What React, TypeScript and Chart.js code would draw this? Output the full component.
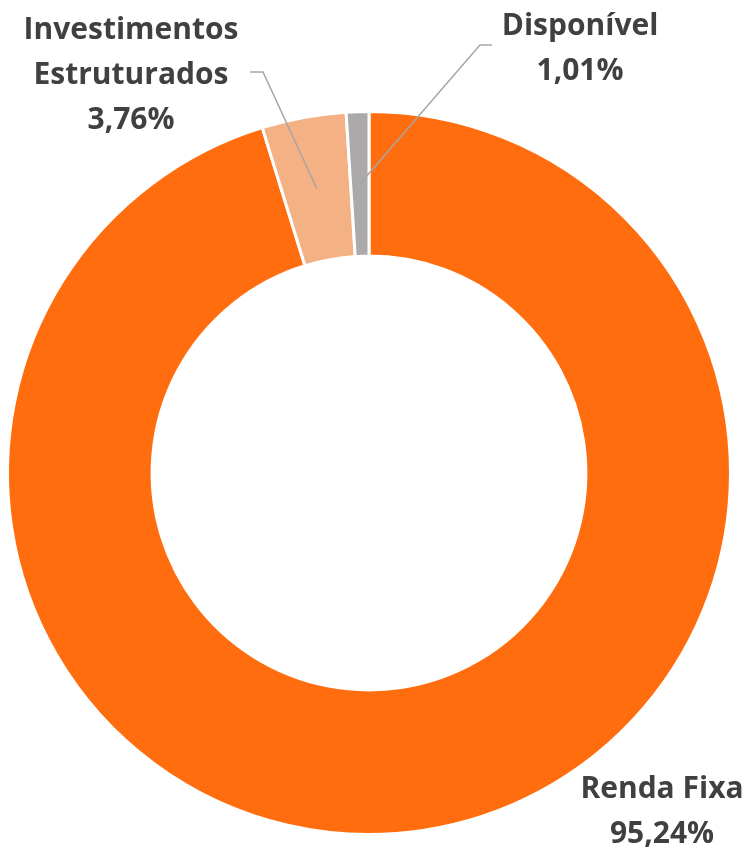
import React, { useEffect, useRef } from "react";
import { Chart, registerables } from "chart.js";

Chart.register(...registerables);

const categories = ["Renda Fixa", "Investimentos Estruturados", "Disponível"];
const values = [95.24, 3.76, 1.01];
const colors = ["#FF6D0F", "#F4B183", "#ABA9A9"];
// label text lines (names split for display)
const labelNameLines = [["Renda Fixa"], ["Investimentos", "Estruturados"], ["Disponível"]];
// label layout: center x, first baseline y
const labelPos = [
  { x: 662, y: 798 },
  { x: 131, y: 39 },
  { x: 580, y: 35 },
];
// leader lines: start point and elbow (null = no leader)
const leaders: ({ sx: number; sy: number; ex: number; ey: number } | null)[] = [
  null,
  { sx: 250, sy: 72, ex: 263, ey: 72 },
  { sx: 492, sy: 45, ex: 480, ey: 45 },
];

const fmt = (v: number) => v.toFixed(2).replace(".", ",") + "%";

const labelPlugin = {
  id: "outLabels",
  afterDatasetsDraw(chart: any) {
    const ctx = chart.ctx as CanvasRenderingContext2D;
    const meta = chart.getDatasetMeta(0);
    ctx.save();
    meta.data.forEach((arc: any, i: number) => {
      const l = leaders[i];
      if (l) {
        const p = arc.tooltipPosition();
        ctx.beginPath();
        ctx.strokeStyle = "#A6A6A6";
        ctx.lineWidth = 1.5;
        ctx.moveTo(l.sx, l.sy);
        ctx.lineTo(l.ex, l.ey);
        ctx.lineTo(p.x, p.y);
        ctx.stroke();
      }
      const lines = [...labelNameLines[i], fmt(values[i])];
      ctx.fillStyle = "#404040";
      ctx.font = "bold 30px 'Open Sans'";
      ctx.textAlign = "center";
      ctx.textBaseline = "alphabetic";
      lines.forEach((t, k) => {
        ctx.fillText(t, labelPos[i].x, labelPos[i].y + k * 45);
      });
    });
    ctx.restore();
  },
};

export default function App() {
  const ref = useRef<HTMLCanvasElement | null>(null);
  useEffect(() => {
    if (!ref.current) return;
    const chart = new Chart(ref.current, {
      type: "doughnut",
      data: {
        labels: categories,
        datasets: [
          {
            data: values,
            backgroundColor: colors,
            borderColor: "#FFFFFF",
            borderWidth: 3,
          },
        ],
      },
      options: {
        responsive: false,
        animation: false,
        cutout: "60%",
        layout: { padding: { left: 6, right: 19, top: 110, bottom: 16 } },
        plugins: { legend: { display: false }, tooltip: { enabled: false } },
      },
      plugins: [labelPlugin],
    });
    return () => chart.destroy();
  }, []);
  return (
    <div style={{ position: "fixed", left: 0, top: 0, width: 751, height: 852, background: "#fff" }}>
      <canvas ref={ref} width={751} height={852} style={{ width: 751, height: 852 }} />
    </div>
  );
}
